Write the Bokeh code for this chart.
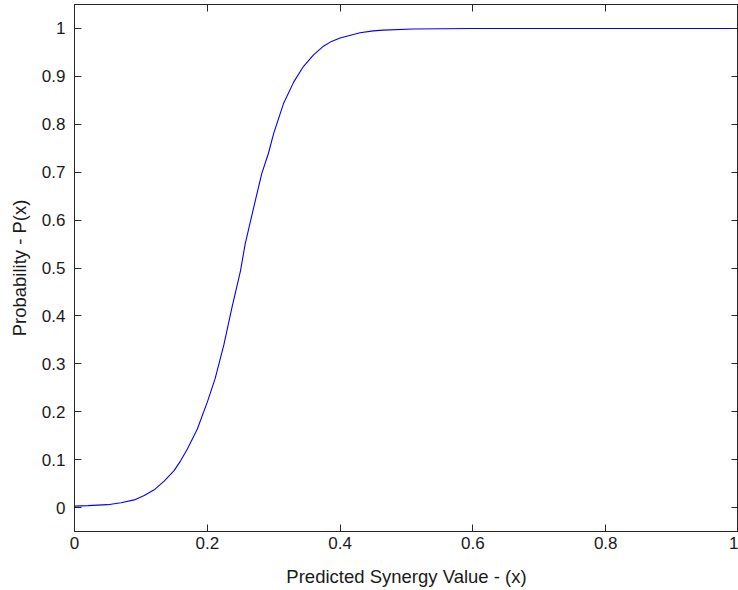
from bokeh.plotting import figure
from bokeh.models import LinearAxis, FixedTicker, Range1d
from bokeh.embed import file_html
from bokeh.resources import INLINE

# Data (CDF-like curve)
x_vals = [0.0, 0.02, 0.05, 0.07, 0.09, 0.105, 0.12, 0.135, 0.15, 0.16, 0.17, 0.185,
          0.20, 0.212, 0.225, 0.237, 0.25, 0.257, 0.27, 0.282, 0.292, 0.30, 0.315,
          0.33, 0.345, 0.36, 0.375, 0.387, 0.40, 0.43, 0.45, 0.465, 0.51, 0.6,
          0.8, 1.0]
p_vals = [0.003, 0.004, 0.006, 0.010, 0.016, 0.025, 0.037, 0.055, 0.077, 0.098,
          0.122, 0.164, 0.22, 0.27, 0.34, 0.417, 0.494, 0.55, 0.627, 0.697, 0.739,
          0.781, 0.844, 0.888, 0.921, 0.945, 0.963, 0.973, 0.98, 0.991, 0.995,
          0.9965, 0.999, 1.0, 1.0, 1.0]

x_ticks = [0, 0.2, 0.4, 0.6, 0.8, 1.0]
x_tick_labels = ["0", "0.2", "0.4", "0.6", "0.8", "1"]
y_ticks = [0, 0.1, 0.2, 0.3, 0.4, 0.5, 0.6, 0.7, 0.8, 0.9, 1.0]
y_tick_labels = ["0", "0.1", "0.2", "0.3", "0.4", "0.5", "0.6", "0.7", "0.8", "0.9", "1"]

x_label = "Predicted Synergy Value - (x)"
y_label = "Probability - P(x)"

FONT = "Liberation Sans"
AX_COLOR = "#262626"
TICK_FS = "17px"
LABEL_FS = "18.5px"

p = figure(width=738, height=590, output_backend="svg", toolbar_location=None,
           x_range=Range1d(0, 1), y_range=Range1d(-0.05, 1.05),
           min_border_left=74, min_border_right=0, min_border_top=4,
           min_border_bottom=59, background_fill_color="white",
           border_fill_color="white")
p.grid.visible = False
p.outline_line_color = AX_COLOR

p.line(x_vals, p_vals, line_color="#0000ff", line_width=1.1)

def style(ax, ticks, labels, show_labels=True):
    ax.ticker = FixedTicker(ticks=ticks)
    ax.axis_line_color = AX_COLOR
    ax.major_tick_line_color = AX_COLOR
    ax.major_tick_in = 7
    ax.major_tick_out = 0
    ax.minor_tick_line_color = None
    if show_labels:
        ax.major_label_overrides = {t: l for t, l in zip(ticks, labels)}
        ax.major_label_text_font = FONT
        ax.major_label_text_color = "#1a1a1a"
        ax.major_label_text_font_size = TICK_FS
    else:
        ax.major_label_text_color = None
        ax.major_label_text_font_size = "0px"
        ax.major_label_standoff = 0

xa = p.xaxis[0]
style(xa, x_ticks, x_tick_labels)
xa.major_label_standoff = 5
xa.axis_label = x_label
xa.axis_label_text_font = FONT
xa.axis_label_text_font_size = LABEL_FS
xa.axis_label_text_font_style = "normal"
xa.axis_label_text_color = "#1a1a1a"
xa.axis_label_standoff = 14

ya = p.yaxis[0]
style(ya, y_ticks, y_tick_labels)
ya.major_label_standoff = 9
ya.axis_label = y_label
ya.axis_label_text_font = FONT
ya.axis_label_text_font_size = LABEL_FS
ya.axis_label_text_font_style = "normal"
ya.axis_label_text_color = "#1a1a1a"
ya.axis_label_standoff = 9

top = LinearAxis()
style(top, x_ticks, x_tick_labels, show_labels=False)
p.add_layout(top, "above")

right = LinearAxis()
style(right, y_ticks, y_tick_labels, show_labels=False)
p.add_layout(right, "right")

open("out.html", "w").write(file_html(p, INLINE))
